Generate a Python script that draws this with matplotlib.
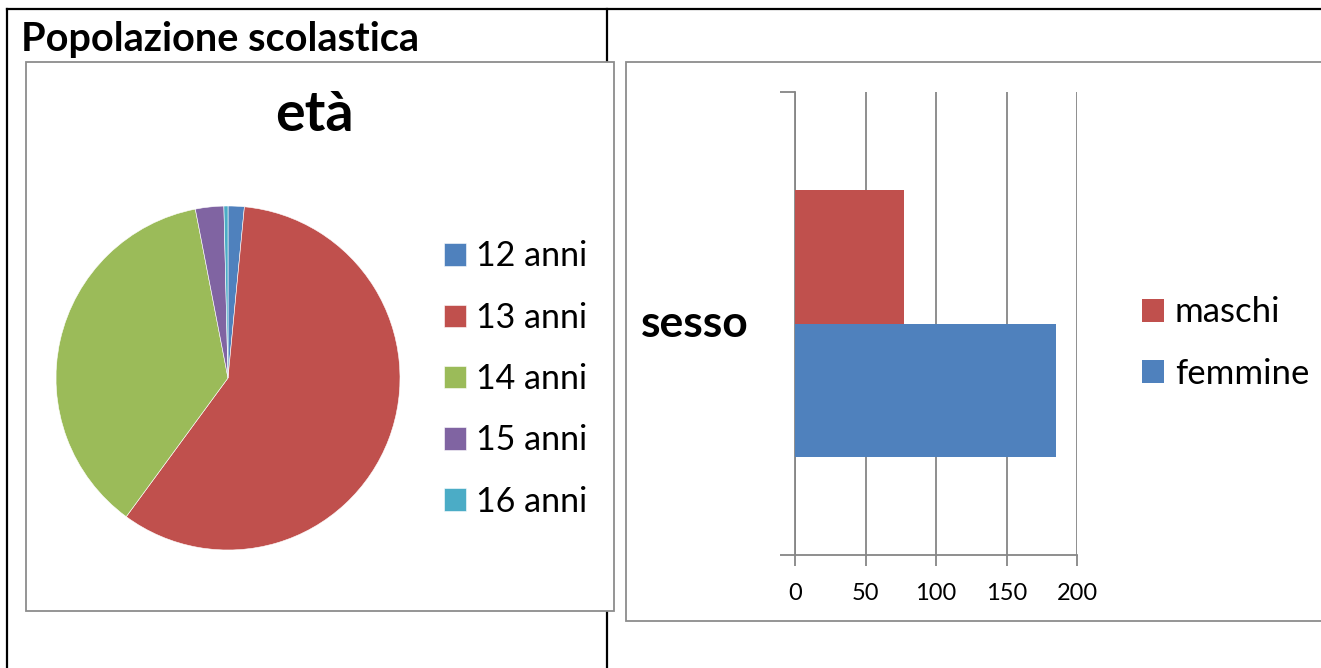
import matplotlib.pyplot as plt
from matplotlib.lines import Line2D
from matplotlib.patches import Rectangle

plt.rcParams['font.family'] = ['Lato', 'DejaVu Sans']

# dati
eta_labels = ['12 anni', '13 anni', '14 anni', '15 anni', '16 anni']
eta_values = [4, 154, 97, 7, 1]
eta_colors = ['#4F81BD', '#C0504D', '#9BBB59', '#8064A2', '#4BACC6']

sesso_labels = ['maschi', 'femmine']
sesso_values = [77, 185]
sesso_colors = ['#C0504D', '#4F81BD']
x_ticks = [0, 50, 100, 150, 200]

W, H = 1321, 668
fig = plt.figure(figsize=(W / 100, H / 100), dpi=100)


def box(x0, y0, x1, y1):
    # pixel box (top-left origin) -> figure fractions
    return [x0 / W, 1 - y1 / H, (x1 - x0) / W, (y1 - y0) / H]


def fline(xs, ys, **kw):
    fig.add_artist(Line2D([x / W for x in xs], [1 - y / H for y in ys],
                          transform=fig.transFigure, zorder=-2, **kw))


# bordi della tabella
fline([7, 1321], [9, 9], color='black', lw=1.6)
fline([7, 7], [9, 668], color='black', lw=1.6)
fline([607, 607], [9, 668], color='black', lw=1.6)

# riquadri dei grafici
for b in [(26, 62, 614, 611), (626, 62, 1330, 621)]:
    fig.add_artist(Rectangle((b[0] / W, 1 - b[3] / H), (b[2] - b[0]) / W,
                             (b[3] - b[1]) / H, transform=fig.transFigure,
                             facecolor='white', edgecolor='#8c8c8c', lw=1.3,
                             zorder=-1))

fig.text(21 / W, 1 - 40 / H, 'Popolazione scolastica', fontsize=28.5,
         fontweight='bold', va='center', ha='left')

# torta
ax1 = fig.add_axes(box(56, 206, 400, 550))
wedges, _ = ax1.pie(eta_values, colors=eta_colors, startangle=90,
                    counterclock=False, radius=1,
                    wedgeprops=dict(edgecolor='white', linewidth=0.4))
ax1.set_xlim(-1, 1)
ax1.set_ylim(-1, 1)
ax1.set_aspect('equal')
fig.text(314 / W, 1 - 115 / H, 'età', fontsize=40, fontweight='bold',
         ha='center', va='center')
fig.legend(wedges, eta_labels, loc='center left',
           bbox_to_anchor=(444 / W, 1 - 379 / H), frameon=False,
           fontsize=24.5, handlelength=0.64, handleheight=0.64,
           handletextpad=0.3, labelspacing=0.86, borderpad=0,
           borderaxespad=0)

# barre
ax2 = fig.add_axes(box(795, 92, 1077, 555))
bh = 0.2875
bars = []
for i, (lab, val, col) in enumerate(zip(sesso_labels, sesso_values, sesso_colors)):
    pos = bh / 2 if i == 0 else -bh / 2
    bars.append(ax2.barh(pos, val, height=bh, color=col, label=lab, zorder=3))
ax2.set_xlim(0, 200)
ax2.set_ylim(-0.5, 0.5)
ax2.set_xticks(x_ticks)
ax2.set_yticks([-0.5, 0.5])
ax2.set_yticklabels([])
ax2.grid(axis='x', color='#868686', lw=1.3, zorder=0)
for s in ['top', 'right']:
    ax2.spines[s].set_visible(False)
for s in ['left', 'bottom']:
    ax2.spines[s].set_color('#868686')
    ax2.spines[s].set_linewidth(1.3)
ax2.tick_params(axis='x', direction='out', length=8, width=1.3,
                color='#868686', labelsize=17, pad=12)
ax2.tick_params(axis='y', direction='out', length=11, width=1.3,
                color='#868686')
fig.text(695 / W, 1 - 324 / H, 'sesso', fontsize=32, fontweight='bold',
         ha='center', va='center')
fig.legend(handles=[b[0] for b in bars], labels=sesso_labels,
           loc='center left', bbox_to_anchor=(1142 / W, 1 - 343 / H),
           frameon=False, fontsize=25, handlelength=0.64, handleheight=0.64,
           handletextpad=0.3, labelspacing=0.85, borderpad=0,
           borderaxespad=0)

fig.savefig('out.png', dpi=100)
